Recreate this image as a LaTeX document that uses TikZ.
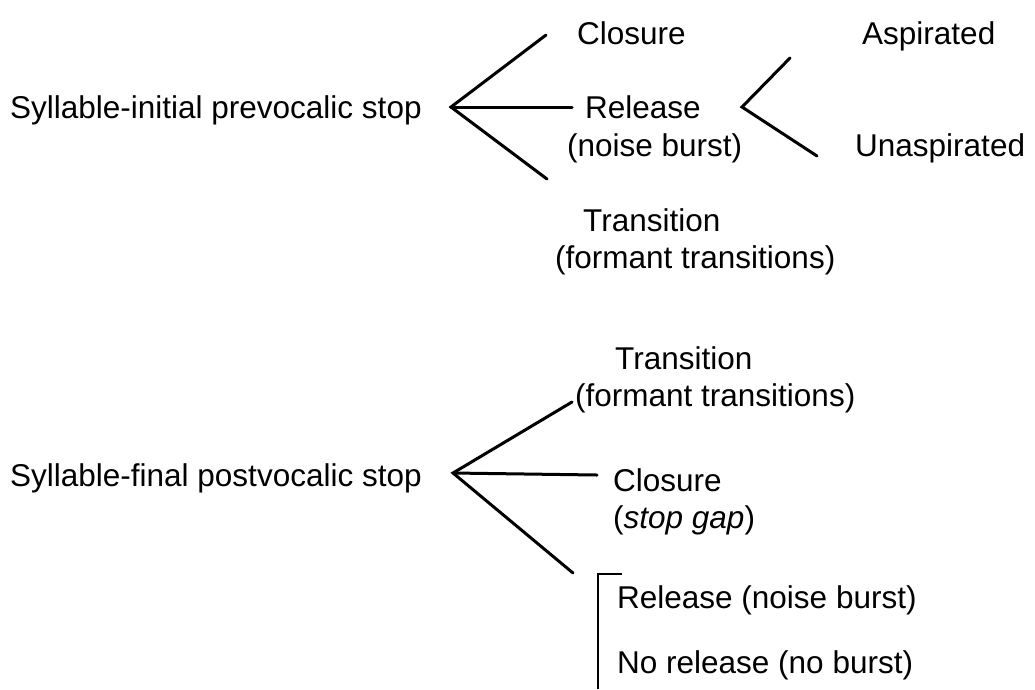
\documentclass[tikz,border=0pt]{standalone}
\usepackage{fontspec}
\setmainfont{Liberation Sans}
\begin{document}
\begin{tikzpicture}[x=1pt,y=-1pt,
  lbl/.style={anchor=base west,inner sep=0pt,font=\fontsize{31.5}{37}\selectfont},
  branch/.style={line width=3pt,line cap=round}]
\useasboundingbox (0,0) rectangle (1035,689);

% --- syllable-initial prevocalic stop ---
\node[lbl] (init) at (10,118) {Syllable-initial prevocalic stop};
\coordinate (v1) at (451,107);
\coordinate (a1) at (546,35);
\coordinate (b1) at (572,107);
\coordinate (c1) at (547,179);
\node[lbl] (clo1) at (577,44) {Closure};
\node[lbl] (rel1) at (585,118) {Release};
\node[lbl] (nb1) at (567,156) {(noise burst)};
\node[lbl] (tr1) at (583,231) {Transition};
\node[lbl] (ft1) at (555,268) {(formant transitions)};
\draw[branch] (a1) -- (v1) -- (c1);
\draw[branch] (v1) -- (b1);

\coordinate (v2) at (742,107);
\coordinate (a2) at (790,58);
\coordinate (c2) at (817,156);
\node[lbl] (asp) at (862,44) {Aspirated};
\node[lbl] (unasp) at (855,156) {Unaspirated};
\draw[branch] (a2) -- (v2) -- (c2);

% --- syllable-final postvocalic stop ---
\node[lbl] (fin) at (10,486) {Syllable-final postvocalic stop};
\coordinate (v3) at (453,473);
\coordinate (a3) at (572,402);
\coordinate (b3) at (597,475);
\coordinate (c3) at (573,573);
\node[lbl] (tr2) at (615,369) {Transition};
\node[lbl] (ft2) at (575,406) {(formant transitions)};
\node[lbl] (clo2) at (613,491) {Closure};
\node[lbl] (gap) at (613,528) {(\textit{stop gap})};
\draw[branch] (a3) -- (v3) -- (c3);
\draw[branch] (v3) -- (b3);

% bracket grouping the two release options
\coordinate (k1) at (622,574);
\coordinate (k2) at (598,574);
\coordinate (k3) at (598,689);
\node[lbl] (rel2) at (617,608) {Release (noise burst)};
\node[lbl] (norel) at (617,673) {No release (no burst)};
\draw[line width=2.5pt] (k1) -- (k2) -- (k3);
\end{tikzpicture}
\end{document}
